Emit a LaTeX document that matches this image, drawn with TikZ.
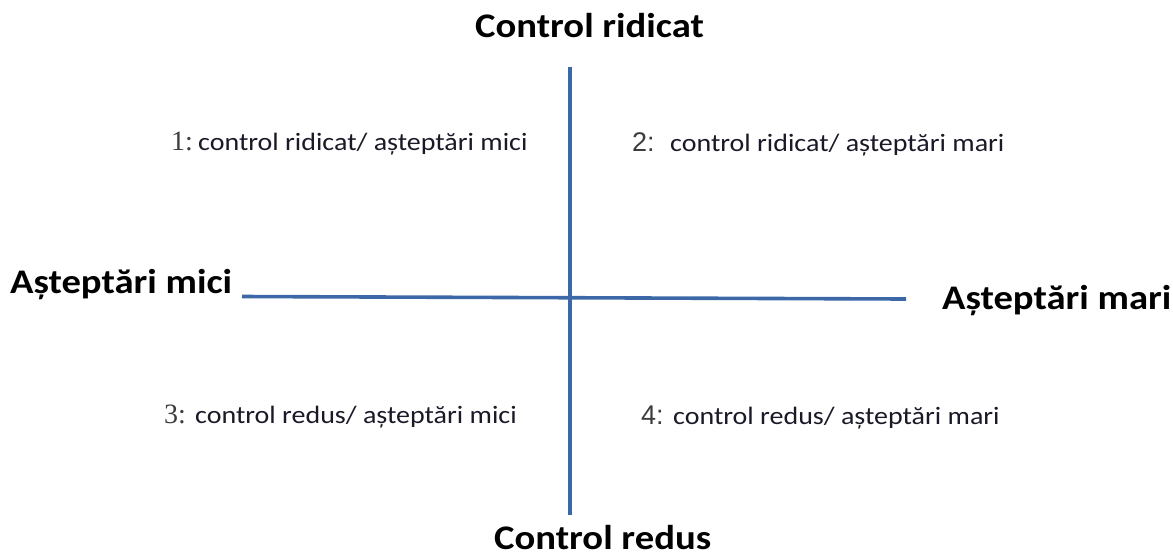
\documentclass[tikz,border=0pt]{standalone}
\usepackage{fontspec}
\setmainfont{Carlito}[FakeStretch=1.12]
\newfontfamily\numserif{Liberation Serif}
\newfontfamily\numsans{Liberation Sans}
\definecolor{axisblue}{RGB}{60,104,168}
\definecolor{numgray}{RGB}{60,60,60}
\definecolor{quadtext}{RGB}{25,25,40}
\begin{document}
\begin{tikzpicture}[x=1pt,y=-1pt,
  axislabel/.style={inner sep=0pt,anchor=base west,font=\fontsize{34.5}{38}\selectfont\bfseries},
  quadlabel/.style={inner sep=0pt,anchor=base west,text=quadtext,font=\fontsize{25}{29}\selectfont},
  quadnum/.style={inner sep=0pt,anchor=base west,text=numgray},
  axisline/.style={draw=axisblue,line width=3.6pt}]
\useasboundingbox (0,0) rectangle (1173,558);
% axis end points
\coordinate (top) at (570,67);
\coordinate (bottom) at (570,515);
\coordinate (left) at (242,296.5);
\coordinate (right) at (906,299);
\draw[axisline] (top) -- (bottom);
\draw[axisline] (left) -- (right);
% axis labels
\node[axislabel] (ctop) at (475,37) {Control ridicat};
\node[axislabel] (cbot) at (494,549) {Control redus};
\node[axislabel] (aleft) at (10,293) {Așteptări mici};
\node[axislabel] (aright) at (942,309) {Așteptări mari};
% quadrant labels
\node[quadnum,font=\numserif\fontsize{28}{32}\selectfont] (n1) at (171,150) {1:};
\node[quadlabel] (q1) at (198,150) {control ridicat/ așteptări mici};
\node[quadnum,font=\numsans\fontsize{27}{31}\selectfont] (n2) at (632,151) {2:};
\node[quadlabel] (q2) at (670,151) {control ridicat/ așteptări mari};
\node[quadnum,font=\numserif\fontsize{28}{32}\selectfont] (n3) at (164,423) {3:};
\node[quadlabel] (q3) at (195,423) {control redus/ așteptări mici};
\node[quadnum,font=\numsans\fontsize{27}{31}\selectfont] (n4) at (641,424) {4:};
\node[quadlabel] (q4) at (673,424) {control redus/ așteptări mari};
\end{tikzpicture}
\end{document}
